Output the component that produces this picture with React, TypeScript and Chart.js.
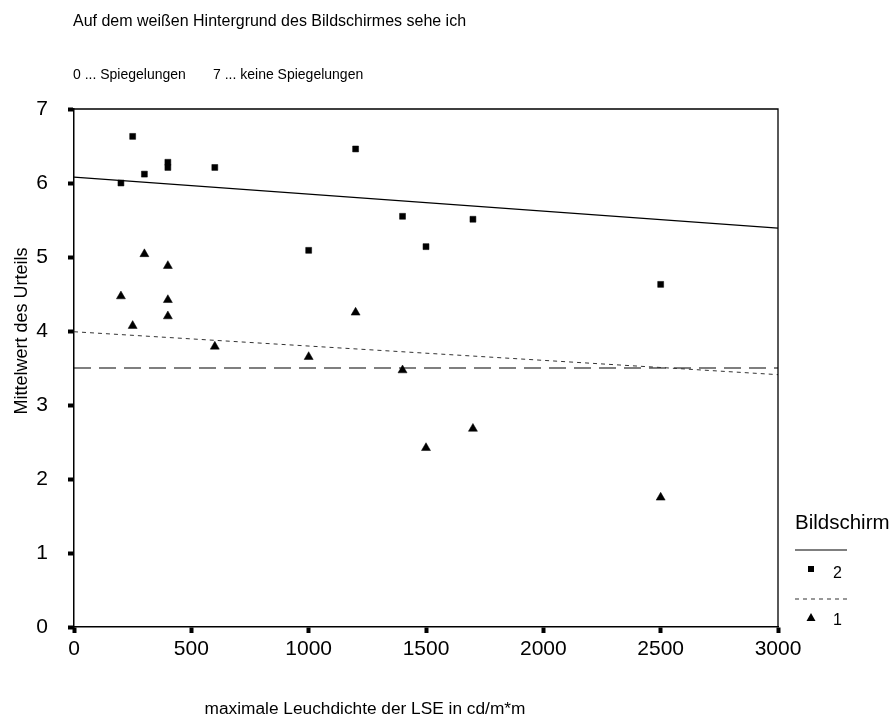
import React, { useEffect, useRef } from "react";
import { Chart, registerables } from "chart.js";

Chart.register(...registerables);

const FONT = "'Liberation Sans', Arial, Helvetica, sans-serif";

const titleText = "Auf dem weißen Hintergrund des Bildschirmes sehe ich";
const scaleLow = "0 ... Spiegelungen";
const scaleHigh = "7 ... keine Spiegelungen";
const xTitle = "maximale Leuchdichte der LSE in cd/m*m";
const yTitle = "Mittelwert des Urteils";
const legendTitle = "Bildschirm";

const xTicks = [0, 500, 1000, 1500, 2000, 2500, 3000];
const yTicks = [0, 1, 2, 3, 4, 5, 6, 7];

// Bildschirm 2 (squares)
const screen2X = [200, 250, 300, 400, 400, 600, 1000, 1200, 1400, 1500, 1700, 2500];
const screen2Y = [6.0, 6.63, 6.12, 6.28, 6.21, 6.21, 5.09, 6.46, 5.55, 5.14, 5.51, 4.63];

// Bildschirm 1 (triangles)
const screen1X = [200, 250, 300, 400, 400, 400, 600, 1000, 1200, 1400, 1500, 1700, 2500];
const screen1Y = [4.47, 4.07, 5.04, 4.88, 4.42, 4.2, 3.79, 3.65, 4.25, 3.47, 2.42, 2.68, 1.75];

// Fit lines (end points) and the reference level
const fitX = [0, 3000];
const fit2Y = [6.08, 5.39];
const fit1Y = [3.99, 3.41];
const refY = [3.5, 3.5];

const SOLID_W = 1.2;
const DOT_DASH = [4, 4];
const LONG_DASH = [17, 8];

const toPoints = (xs: number[], ys: number[]) => xs.map((x, i) => ({ x, y: ys[i] }));

const decor = {
  id: "decor",
  afterDraw(chart: any) {
    const { ctx, chartArea: a } = chart;
    ctx.save();
    // top and right frame of the plot box
    ctx.strokeStyle = "#000";
    ctx.lineWidth = 1.3;
    ctx.setLineDash([]);
    ctx.beginPath();
    ctx.moveTo(a.left, a.top);
    ctx.lineTo(a.right, a.top);
    ctx.lineTo(a.right, a.bottom);
    ctx.stroke();

    // headings
    ctx.fillStyle = "#000";
    ctx.textAlign = "left";
    ctx.textBaseline = "middle";
    ctx.font = `16px ${FONT}`;
    ctx.fillText(titleText, 73, 22);
    ctx.font = `14px ${FONT}`;
    ctx.fillText(scaleLow, 73, 75);
    ctx.fillText(scaleHigh, 213, 75);

    // axis titles
    ctx.textAlign = "center";
    ctx.font = `17.3px ${FONT}`;
    ctx.fillText(xTitle, 365, 709);
    ctx.save();
    ctx.translate(22, 331);
    ctx.rotate(-Math.PI / 2);
    ctx.font = `18px ${FONT}`;
    ctx.fillText(yTitle, 0, 0);
    ctx.restore();

    // legend
    const lx = 795;
    ctx.textAlign = "left";
    ctx.textBaseline = "alphabetic";
    ctx.font = `20.5px ${FONT}`;
    ctx.fillText(legendTitle, lx, 529);

    ctx.lineWidth = SOLID_W;
    ctx.beginPath();
    ctx.moveTo(lx, 550);
    ctx.lineTo(lx + 52, 550);
    ctx.stroke();

    ctx.fillRect(811 - 3, 569 - 3, 6, 6);
    ctx.font = `16px ${FONT}`;
    ctx.textBaseline = "middle";
    ctx.fillText("2", 833, 574);

    ctx.strokeStyle = "#333";
    ctx.setLineDash(DOT_DASH);
    ctx.beginPath();
    ctx.moveTo(lx, 599);
    ctx.lineTo(lx + 52, 599);
    ctx.stroke();
    ctx.setLineDash([]);

    ctx.beginPath();
    ctx.moveTo(811, 613);
    ctx.lineTo(815.5, 621);
    ctx.lineTo(806.5, 621);
    ctx.closePath();
    ctx.fill();
    ctx.fillText("1", 833, 621);

    ctx.restore();
  },
};

export default function App() {
  const canvasRef = useRef<HTMLCanvasElement | null>(null);

  useEffect(() => {
    if (!canvasRef.current) return;
    const chart = new Chart(canvasRef.current, {
      type: "scatter",
      data: {
        datasets: [
          {
            label: "fit2",
            data: toPoints(fitX, fit2Y),
            showLine: true,
            borderColor: "#000",
            borderWidth: SOLID_W,
            pointRadius: 0,
          },
          {
            label: "fit1",
            data: toPoints(fitX, fit1Y),
            showLine: true,
            borderColor: "#333",
            borderWidth: 1,
            borderDash: DOT_DASH,
            pointRadius: 0,
          },
          {
            label: "ref",
            data: toPoints(fitX, refY),
            showLine: true,
            borderColor: "#000",
            borderWidth: 1.2,
            borderDash: LONG_DASH,
            pointRadius: 0,
          },
          {
            label: "2",
            data: toPoints(screen2X, screen2Y),
            pointStyle: "rect",
            pointRadius: 4.2,
            pointBackgroundColor: "#000",
            pointBorderColor: "#000",
            pointBorderWidth: 0.5,
          },
          {
            label: "1",
            data: toPoints(screen1X, screen1Y),
            pointStyle: "triangle",
            pointRadius: 5.2,
            pointBackgroundColor: "#000",
            pointBorderColor: "#000",
            pointBorderWidth: 0.5,
          },
        ],
      },
      options: {
        responsive: false,
        animation: false,
        layout: { padding: { left: 0, top: 109, right: 118, bottom: 0 } },
        plugins: { legend: { display: false }, tooltip: { enabled: false } },
        scales: {
          x: {
            type: "linear",
            min: 0,
            max: 3000,
            afterBuildTicks: (s: any) => {
              s.ticks = xTicks.map((v) => ({ value: v }));
            },
            afterFit: (s: any) => {
              s.height = 100;
            },
            ticks: {
              font: { size: 21, family: FONT },
              color: "#000",
              padding: 4,
              maxRotation: 0,
              autoSkip: false,
              callback: (v: any) => String(v),
            },
            grid: {
              drawOnChartArea: false,
              drawTicks: true,
              tickLength: 6,
              tickWidth: 4,
              tickColor: "#000",
            },
            border: { display: true, color: "#000", width: 1.5 },
          },
          y: {
            type: "linear",
            min: 0,
            max: 7,
            afterBuildTicks: (s: any) => {
              s.ticks = yTicks.map((v) => ({ value: v }));
            },
            afterFit: (s: any) => {
              s.width = 74;
            },
            ticks: {
              font: { size: 21, family: FONT },
              color: "#000",
              padding: 20,
              callback: (v: any) => String(v),
            },
            grid: {
              drawOnChartArea: false,
              drawTicks: true,
              tickLength: 6,
              tickWidth: 4,
              tickColor: "#000",
            },
            border: { display: true, color: "#000", width: 1.5 },
          },
        },
      },
      plugins: [decor],
    });
    return () => chart.destroy();
  }, []);

  return (
    <div style={{ position: "fixed", left: 0, top: 0, width: 896, height: 727, background: "#fff" }}>
      <canvas ref={canvasRef} width={896} height={727} />
    </div>
  );
}
